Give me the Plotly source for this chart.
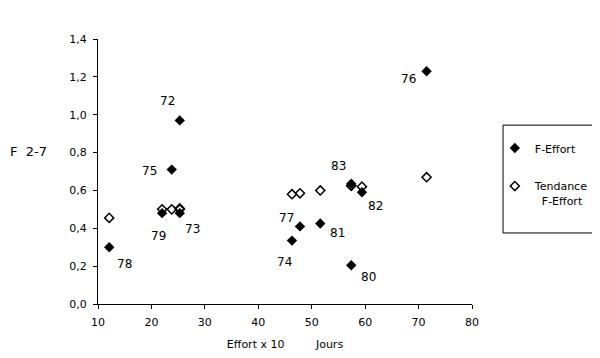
import plotly.graph_objects as go

years = ["72", "73", "74", "75", "76", "77", "78", "79", "80", "81", "82", "83"]
effort = [25.3, 25.3, 46.3, 23.8, 71.5, 47.8, 12.1, 22.0, 57.4, 51.6, 59.4, 57.4]
f_effort = [0.97, 0.48, 0.335, 0.71, 1.23, 0.41, 0.30, 0.48, 0.205, 0.425, 0.59, 0.635]
tendance = [0.505, 0.50, 0.58, 0.50, 0.67, 0.585, 0.455, 0.50, 0.625, 0.60, 0.62, 0.625]

x_ticks = [10, 20, 30, 40, 50, 60, 70, 80]
y_ticks = [0.0, 0.2, 0.4, 0.6, 0.8, 1.0, 1.2, 1.4]

# label offsets in pixels (dx, dy up)
label_offsets = {
    "72": (-12, 19), "73": (13, -16), "74": (-7, -21), "75": (-22, -1),
    "76": (-18, -8), "77": (-13, 8), "78": (15, -17), "79": (-4, -23),
    "80": (17, -12), "81": (17, -9), "82": (14, -14), "83": (-13, 18),
}

FONT = "DejaVu Sans"

fig = go.Figure()
fig.add_trace(go.Scatter(
    x=effort, y=f_effort, mode="markers", name="F-Effort", legendgroup="a",
    marker=dict(symbol="diamond", size=8, color="black"),
))
fig.add_trace(go.Scatter(
    x=effort, y=tendance, mode="markers", name="Tendance<br>&nbsp;&nbsp;F-Effort", legendgroup="b",
    marker=dict(symbol="diamond-open", size=7, color="black", line=dict(width=1.5)),
))

annotations = []
for yr, xv, yv in zip(years, effort, f_effort):
    dx, dy = label_offsets[yr]
    annotations.append(dict(x=xv, y=yv, xref="x", yref="y", text=yr, showarrow=False,
                            xshift=dx, yshift=dy, font=dict(family=FONT, size=12, color="black")))
annotations.append(dict(x=-0.24, y=0.574, xref="paper", yref="paper", text="F&nbsp;&nbsp;2-7",
                        xanchor="left", showarrow=False,
                        font=dict(family=FONT, size=13, color="black")))

fig.update_layout(
    width=592, height=350,
    margin=dict(l=90, r=128, t=31, b=54, autoexpand=False),
    paper_bgcolor="white", plot_bgcolor="white",
    separators=", ",
    font=dict(family=FONT, size=11, color="black"),
    showlegend=True,
    legend=dict(x=1.061, y=0.64, xanchor="left", yanchor="top",
                borderwidth=0, bgcolor="rgba(0,0,0,0)", valign="top",
                font=dict(family=FONT, size=11, color="black"),
                tracegroupgap=19),
    shapes=[dict(type="rect", xref="paper", yref="paper", x0=1.083, x1=1.3235,
                 y0=0.268, y1=0.675, line=dict(color="black", width=1))],
    annotations=annotations,
)
fig.update_xaxes(range=[10, 80], tickvals=x_ticks, ticktext=[str(v) for v in x_ticks],
                 showgrid=False, zeroline=False, showline=True, linecolor="black", linewidth=1,
                 ticks="outside", ticklen=4, tickcolor="black", automargin=False,
                 ticklabelstandoff=4,
                 title=dict(text="Effort x 10&nbsp;&nbsp;&nbsp;&nbsp;&nbsp;&nbsp;&nbsp;&nbsp;&nbsp;Jours",
                            font=dict(family=FONT, size=11), standoff=12))
fig.update_yaxes(range=[0, 1.4], tickvals=y_ticks, tickformat=".1f",
                 showgrid=False, zeroline=False, showline=True, linecolor="black", linewidth=1,
                 ticks="outside", ticklen=4, tickcolor="black", ticklabelstandoff=4, automargin=False)

fig.write_html("out.html")
